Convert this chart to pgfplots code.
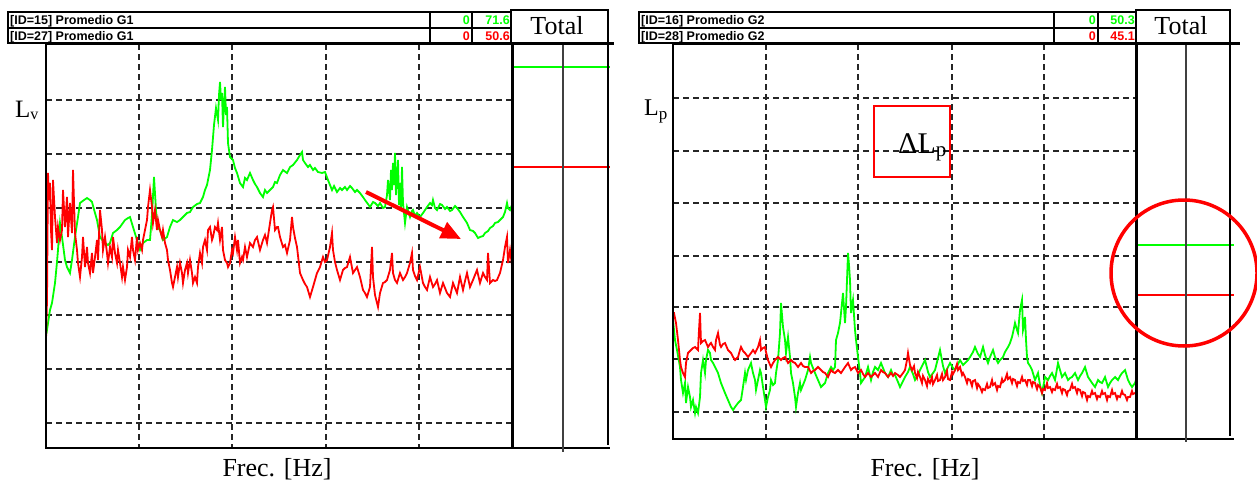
\documentclass[border=0pt]{standalone}
\usepackage{fontspec}
\setmainfont{Liberation Serif}
\newfontfamily\hdrfont{Liberation Sans}
\usepackage{pgfplots}
\pgfplotsset{compat=1.18}
\usetikzlibrary{arrows.meta}
\definecolor{sgreen}{RGB}{0,255,0}
\definecolor{sred}{RGB}{255,0,0}
\pgfplotsset{
  spec/.style={scale only axis, y dir=reverse, grid=major,
    major grid style={black!85, line width=1.3pt, dash pattern=on 6pt off 4pt},
    axis line style={draw=none}, tick style={draw=none},
    xticklabels={}, yticklabels={}},
  tot/.style={scale only axis, y dir=reverse, hide axis, clip=false, xmin=0, xmax=1},
}
\newcommand{\hdr}{\hdrfont\bfseries\fontsize{12.5}{12.5}\selectfont}
\begin{document}
\begin{tikzpicture}[x=1pt,y=1pt]
\useasboundingbox (0pt,0pt) rectangle (1257pt,483pt);
% ---------- left spectrum ----------
\begin{axis}[spec, at={(46pt,35pt)}, anchor=south west, width=466pt, height=404pt,
  xmin=46, xmax=512, ymin=44, ymax=448,
  xtick={139,232,326,419}, ytick={100,154,208,262,315,369,423}]
\addplot[sgreen, line width=1.8pt] coordinates {
(46,327) (47,330) (50,310) (52,303) (55,283) (57,262) (58,250) (60,223) (62,237) (65,260) (67,267) (70,273) (72,260) (75,237) (78,217) (80,203) (84,200) (87,198) (90,200) (92,202) (95,213) (97,220) (100,237) (103,241) (105,243) (108,245) (110,243) (113,233) (117,230) (120,227) (125,220) (128,218) (130,217) (133,227) (137,240) (140,250) (143,243) (147,240) (150,240) (152,215) (154,177) (156,210) (157,227) (160,230) (163,240) (167,237) (170,227) (173,220) (177,222) (180,220) (184,216) (187,213) (190,212) (193,207) (197,204) (200,203) (203,197) (205,190) (207,185) (210,170) (212,150) (214,125) (216,108) (218,120) (219,95) (220,82) (221,100) (222,93) (223,127) (224,105) (225,87) (226,115) (227,107) (228,143) (230,157) (233,160) (235,168) (237,173) (240,183) (243,187) (245,178) (247,180) (250,173) (253,180) (255,184) (257,187) (260,193) (263,197) (265,190) (267,193) (270,190) (273,187) (275,182) (277,183) (280,175) (283,170) (287,173) (290,167) (293,165) (297,160) (300,155) (302,152) (303,160) (305,163) (308,167) (310,165) (313,170) (315,168) (318,172) (322,173) (325,172) (328,180) (332,190) (334,186) (337,192) (340,188) (342,190) (345,187) (347,190) (350,186) (352,188) (355,192) (357,190) (360,193) (363,197) (365,200) (368,204) (370,207) (373,202) (375,203) (378,206) (380,203) (383,208) (385,207) (387,195) (388,180) (390,200) (391,170) (392,190) (393,163) (394,185) (395,153) (396,195) (397,177) (398,160) (399,205) (400,183) (401,210) (402,167) (403,203) (405,223) (407,207) (410,217) (412,211) (413,210) (415,216) (417,213) (420,217) (423,213) (425,210) (427,207) (430,203) (432,205) (433,200) (435,208) (437,210) (440,204) (442,205) (445,209) (447,207) (450,211) (452,210) (455,206) (457,208) (460,212) (463,217) (465,220) (467,223) (470,230) (473,231) (475,233) (478,238) (480,237) (483,236) (485,233) (488,231) (490,228) (493,226) (495,223) (498,222) (500,220) (503,217) (505,212) (507,203) (508,208) (510,210) (512,205)
};
\addplot[sred, line width=1.8pt] coordinates {
(46,340) (47,300) (48,173) (49,200) (50,183) (51,230) (52,250) (53,180) (55,217) (57,243) (58,227) (60,240) (62,230) (63,190) (65,227) (67,197) (68,237) (70,203) (72,233) (73,170) (75,233) (77,250) (78,263) (80,277) (82,257) (83,237) (85,267) (87,247) (88,263) (90,273) (92,253) (93,273) (95,257) (97,240) (98,260) (100,210) (102,230) (103,250) (105,237) (107,253) (108,263) (110,247) (112,257) (113,237) (115,253) (117,263) (118,250) (120,263) (122,277) (123,267) (125,280) (127,267) (128,250) (130,257) (132,237) (133,250) (135,260) (137,237) (138,250) (140,243) (142,250) (143,240) (145,230) (147,220) (148,207) (150,190) (152,207) (153,223) (155,210) (157,230) (158,220) (160,230) (162,237) (163,230) (165,243) (167,250) (168,260) (170,270) (172,283) (173,287) (175,277) (177,267) (178,277) (180,263) (182,273) (183,283) (185,270) (187,263) (188,273) (190,260) (192,273) (193,283) (195,277) (197,283) (198,267) (200,253) (202,263) (203,247) (205,240) (207,250) (208,230) (210,227) (212,240) (213,237) (215,227) (217,230) (218,223) (220,240) (222,227) (223,250) (225,260) (227,263) (228,267) (230,263) (232,250) (233,253) (235,237) (237,250) (238,240) (240,263) (242,257) (243,260) (245,247) (247,257) (250,243) (253,247) (255,240) (257,237) (260,250) (263,240) (265,235) (267,243) (270,223) (272,210) (273,207) (275,230) (277,227) (278,227) (280,237) (283,247) (285,245) (287,253) (290,240) (292,217) (293,227) (295,238) (297,247) (300,273) (303,280) (305,284) (307,287) (310,297) (313,287) (315,280) (317,273) (320,267) (323,257) (325,262) (327,260) (330,247) (332,233) (333,250) (335,262) (337,270) (340,280) (343,270) (345,268) (347,267) (350,257) (353,273) (355,270) (357,267) (360,277) (363,290) (365,293) (367,297) (370,287) (372,247) (373,277) (375,295) (377,303) (378,307) (380,293) (383,283) (385,282) (387,280) (390,270) (392,253) (393,273) (395,280) (397,283) (400,273) (403,280) (405,277) (407,273) (410,263) (412,253) (413,270) (415,276) (417,280) (420,267) (423,283) (425,287) (427,290) (430,277) (433,287) (435,284) (437,280) (440,293) (443,283) (445,288) (447,293) (450,297) (453,283) (455,288) (457,293) (460,277) (463,290) (465,281) (467,273) (470,287) (473,280) (475,275) (477,270) (480,283) (483,273) (485,277) (487,280) (488,253) (490,283) (493,280) (495,281) (497,280) (500,273) (503,260) (505,247) (507,237) (508,263) (510,250) (512,265)
};
\end{axis}
% ---------- left total ----------
\begin{axis}[tot, at={(512pt,35pt)}, anchor=south west, width=96pt, height=404pt, ymin=44, ymax=448]
\addplot[sgreen, line width=1.5pt] coordinates {(0,67) (1.02,67)};
\addplot[sred, line width=1.5pt] coordinates {(0,167) (1.02,167)};
\end{axis}
% ---------- right spectrum ----------
\begin{axis}[spec, at={(673pt,44pt)}, anchor=south west, width=463pt, height=395pt,
  xmin=673, xmax=1136, ymin=44, ymax=439,
  xtick={766,858,952,1044}, ytick={98,151,203,256,307,359,412}]
\addplot[sgreen, line width=1.8pt] coordinates {
(673,320) (674,330) (675,340) (677,350) (680,367) (681,380) (683,393) (685,383) (686,403) (688,387) (690,397) (691,407) (693,400) (695,413) (696,407) (698,413) (700,397) (701,373) (703,360) (705,373) (706,360) (708,350) (710,353) (711,360) (713,363) (715,367) (718,373) (721,383) (723,388) (725,393) (728,400) (731,407) (733,410) (735,407) (738,403) (741,400) (743,387) (745,373) (746,380) (748,370) (751,363) (753,373) (755,380) (756,390) (758,380) (760,370) (761,373) (763,387) (765,400) (766,407) (768,397) (770,390) (771,380) (773,385) (775,383) (776,373) (778,360) (780,333) (781,303) (783,327) (785,340) (786,353) (788,337) (790,357) (791,373) (793,383) (795,397) (796,407) (798,393) (800,383) (801,390) (803,385) (805,380) (808,370) (810,357) (811,363) (813,368) (815,373) (818,380) (821,387) (823,385) (825,383) (828,373) (831,367) (833,370) (835,367) (836,340) (838,333) (840,323) (841,313) (843,293) (845,323) (846,307) (847,280) (848,253) (849,265) (850,280) (851,313) (853,300) (855,330) (856,340) (858,357) (860,373) (861,383) (863,380) (865,377) (868,367) (871,380) (873,372) (875,367) (878,370) (881,363) (883,368) (885,373) (888,377) (891,370) (893,375) (895,375) (898,382) (900,387) (903,381) (905,377) (908,372) (910,367) (913,374) (915,380) (918,375) (920,370) (923,364) (925,360) (928,372) (930,377) (933,373) (935,370) (938,358) (940,350) (943,366) (945,373) (948,367) (950,363) (953,368) (955,370) (958,364) (960,360) (963,365) (965,363) (968,360) (970,357) (973,352) (975,347) (978,354) (980,357) (983,347) (985,355) (988,363) (990,357) (993,350) (995,357) (998,363) (1000,360) (1003,357) (1005,352) (1008,347) (1010,343) (1012,337) (1014,328) (1015,323) (1017,330) (1018,333) (1020,310) (1022,300) (1023,330) (1024,325) (1025,317) (1026,340) (1027,357) (1028,363) (1030,366) (1032,370) (1035,380) (1038,373) (1040,385) (1042,393) (1045,377) (1048,380) (1050,376) (1052,373) (1055,380) (1058,363) (1060,370) (1062,377) (1065,373) (1068,380) (1070,378) (1072,377) (1075,373) (1078,380) (1080,376) (1082,373) (1085,367) (1088,377) (1090,380) (1092,383) (1095,387) (1098,380) (1100,382) (1102,383) (1105,377) (1108,387) (1110,383) (1112,380) (1115,377) (1118,380) (1120,376) (1122,373) (1125,370) (1128,380) (1130,384) (1132,387) (1135,383) (1136,380)
};
\addplot[sred, line width=1.8pt] coordinates {
(673,313) (674,313) (676,323) (678,340) (680,360) (681,367) (683,373) (685,377) (686,363) (688,353) (690,351) (691,350) (693,348) (695,347) (698,350) (699,330) (700,313) (701,343) (703,341) (705,340) (708,347) (710,344) (711,343) (713,347) (715,350) (716,340) (718,333) (720,345) (721,347) (723,344) (725,343) (728,350) (731,353) (733,357) (735,360) (738,357) (740,350) (741,347) (743,351) (745,353) (748,357) (751,353) (753,350) (755,353) (758,347) (760,340) (761,350) (763,348) (765,347) (766,352) (768,360) (771,367) (773,363) (775,360) (778,357) (781,360) (783,358) (785,357) (788,363) (791,360) (793,362) (795,363) (798,367) (801,363) (803,366) (805,367) (808,367) (811,373) (813,371) (815,370) (818,367) (821,370) (823,372) (825,373) (828,377) (831,370) (833,372) (835,373) (838,370) (841,373) (843,370) (845,367) (848,363) (851,370) (853,368) (855,367) (858,373) (861,370) (863,374) (865,377) (868,373) (871,377) (873,375) (875,373) (878,377) (881,370) (883,372) (885,373) (888,377) (891,373) (893,376) (895,373) (898,375) (900,377) (903,373) (905,370) (907,360) (908,353) (910,365) (912,370) (914,366) (915,373) (917,378) (918,372) (920,377) (922,383) (923,376) (925,380) (927,386) (928,379) (930,383) (932,377) (933,384) (935,380) (937,375) (938,381) (940,380) (942,374) (943,380) (945,377) (947,371) (948,379) (950,380) (952,372) (953,374) (955,370) (957,364) (958,370) (960,367) (962,375) (963,373) (965,377) (967,383) (968,379) (970,380) (972,386) (973,381) (975,380) (977,388) (978,384) (980,387) (982,392) (983,389) (985,390) (987,384) (988,388) (990,387) (992,380) (993,385) (995,383) (997,390) (998,386) (1000,387) (1002,379) (1003,382) (1005,380) (1007,374) (1008,379) (1010,377) (1012,383) (1013,379) (1015,380) (1017,386) (1018,382) (1020,383) (1022,377) (1023,381) (1025,380) (1027,385) (1028,380) (1030,380) (1032,386) (1033,382) (1035,383) (1037,389) (1038,385) (1040,387) (1042,393) (1043,389) (1045,390) (1047,383) (1048,388) (1050,387) (1052,392) (1053,389) (1055,390) (1057,384) (1058,388) (1060,387) (1062,393) (1063,389) (1065,390) (1067,395) (1068,391) (1070,390) (1072,384) (1073,388) (1075,387) (1077,393) (1078,389) (1080,390) (1082,396) (1083,392) (1085,393) (1087,400) (1088,396) (1090,397) (1092,391) (1093,394) (1095,393) (1097,399) (1098,396) (1100,397) (1102,391) (1103,394) (1105,393) (1107,400) (1108,396) (1110,397) (1112,390) (1113,394) (1115,393) (1117,399) (1118,396) (1120,397) (1122,391) (1123,394) (1125,395) (1127,400) (1128,397) (1130,397) (1132,391) (1133,394) (1135,393) (1136,392)
};
\end{axis}
% ---------- right total ----------
\begin{axis}[tot, at={(1136pt,44pt)}, anchor=south west, width=94pt, height=395pt, ymin=44, ymax=439]
\addplot[sgreen, line width=1.5pt] coordinates {(0,245) (1.04,245)};
\addplot[sred, line width=1.5pt] coordinates {(0,295) (1.04,295)};
\end{axis}
% ---------- frames, header, annotations (pixel coordinates, y down) ----------
\begin{scope}[yshift=483pt, yscale=-1]
% left frame
\draw[line width=3pt] (45,44) -- (614,44);
\draw[line width=1.8pt] (46,44) -- (46,449);
\draw[line width=1.5pt] (45,448) -- (610,448);
\draw[line width=3pt] (512,44) -- (512,449);
\draw[line width=1.5pt, black!75] (563,44) -- (563,452);
\draw[line width=2pt] (608,44) -- (608,445);
% left header
\draw[line width=1.3pt] (8,12) rectangle (430,27.5);
\draw[line width=1.3pt] (430,12) rectangle (472,27.5);
\draw[line width=1.3pt] (472,12) rectangle (511,27.5);
\draw[line width=1.3pt] (8,28.5) rectangle (430,43);
\draw[line width=1.3pt] (430,28.5) rectangle (472,43);
\draw[line width=1.3pt] (472,28.5) rectangle (511,43);
\draw[line width=2pt] (511,10) rectangle (608,44);
\node[anchor=base west, inner sep=0pt, font=\hdr] at (10,24.5) {[ID=15] Promedio G1};
\node[anchor=base west, inner sep=0pt, font=\hdr] at (10,41) {[ID=27] Promedio G1};
\node[anchor=base east, inner sep=0pt, font=\hdr, text=sgreen] at (470,24.5) {0};
\node[anchor=base east, inner sep=0pt, font=\hdr, text=sgreen] at (510,24.5) {71.6};
\node[anchor=base east, inner sep=0pt, font=\hdr, text=sred] at (470,41) {0};
\node[anchor=base east, inner sep=0pt, font=\hdr, text=sred] at (510,41) {50.6};
\node[anchor=base, inner sep=0pt, font=\fontsize{26}{26}\selectfont] at (557,35) {Total};
% right frame
\draw[line width=3pt] (672,44) -- (1240,44);
\draw[line width=1.8pt] (673,44) -- (673,440);
\draw[line width=1.5pt] (672,439) -- (1234,439);
\draw[line width=3pt] (1136,44) -- (1136,440);
\draw[line width=1.5pt, black!75] (1186,44) -- (1186,442);
\draw[line width=2pt] (1230,44) -- (1230,436);
% right header
\draw[line width=1.3pt] (639,12) rectangle (1054,27.5);
\draw[line width=1.3pt] (1054,12) rectangle (1098,27.5);
\draw[line width=1.3pt] (1098,12) rectangle (1136,27.5);
\draw[line width=1.3pt] (639,28.5) rectangle (1054,43);
\draw[line width=1.3pt] (1054,28.5) rectangle (1098,43);
\draw[line width=1.3pt] (1098,28.5) rectangle (1136,43);
\draw[line width=2pt] (1136,10) rectangle (1230,44);
\node[anchor=base west, inner sep=0pt, font=\hdr] at (641,24.5) {[ID=16] Promedio G2};
\node[anchor=base west, inner sep=0pt, font=\hdr] at (641,41) {[ID=28] Promedio G2};
\node[anchor=base east, inner sep=0pt, font=\hdr, text=sgreen] at (1096,24.5) {0};
\node[anchor=base east, inner sep=0pt, font=\hdr, text=sgreen] at (1135,24.5) {50.3};
\node[anchor=base east, inner sep=0pt, font=\hdr, text=sred] at (1096,41) {0};
\node[anchor=base east, inner sep=0pt, font=\hdr, text=sred] at (1135,41) {45.1};
\node[anchor=base, inner sep=0pt, font=\fontsize{26}{26}\selectfont] at (1181,35) {Total};
% axis labels
\node[anchor=base west, inner sep=0pt, font=\fontsize{25}{25}\selectfont] at (15,117) {L\raisebox{-3pt}{\fontsize{16}{16}\selectfont v}};
\node[anchor=base west, inner sep=0pt, font=\fontsize{24}{24}\selectfont] at (644,116) {L\raisebox{-4pt}{\fontsize{17}{17}\selectfont p}};
\node[anchor=base, inner sep=0pt, font=\fontsize{26}{26}\selectfont] at (277,476) {Frec. [Hz]};
\node[anchor=base, inner sep=0pt, font=\fontsize{26}{26}\selectfont] at (925,476) {Frec. [Hz]};
% annotations
\draw[sred, line width=4pt, -{Triangle[length=20pt,width=17pt]}] (366,192) -- (461,239);
\draw[sred, line width=1.5pt] (874,106) rectangle (950,177);
\node[anchor=base west, inner sep=0pt, font=\fontsize{30}{30}\selectfont] at (898,153) {ΔL\raisebox{-3pt}{\fontsize{21}{21}\selectfont p}};
\draw[sred, line width=3.5pt] (1184,273) circle (73);
\end{scope}
\end{tikzpicture}
\end{document}
